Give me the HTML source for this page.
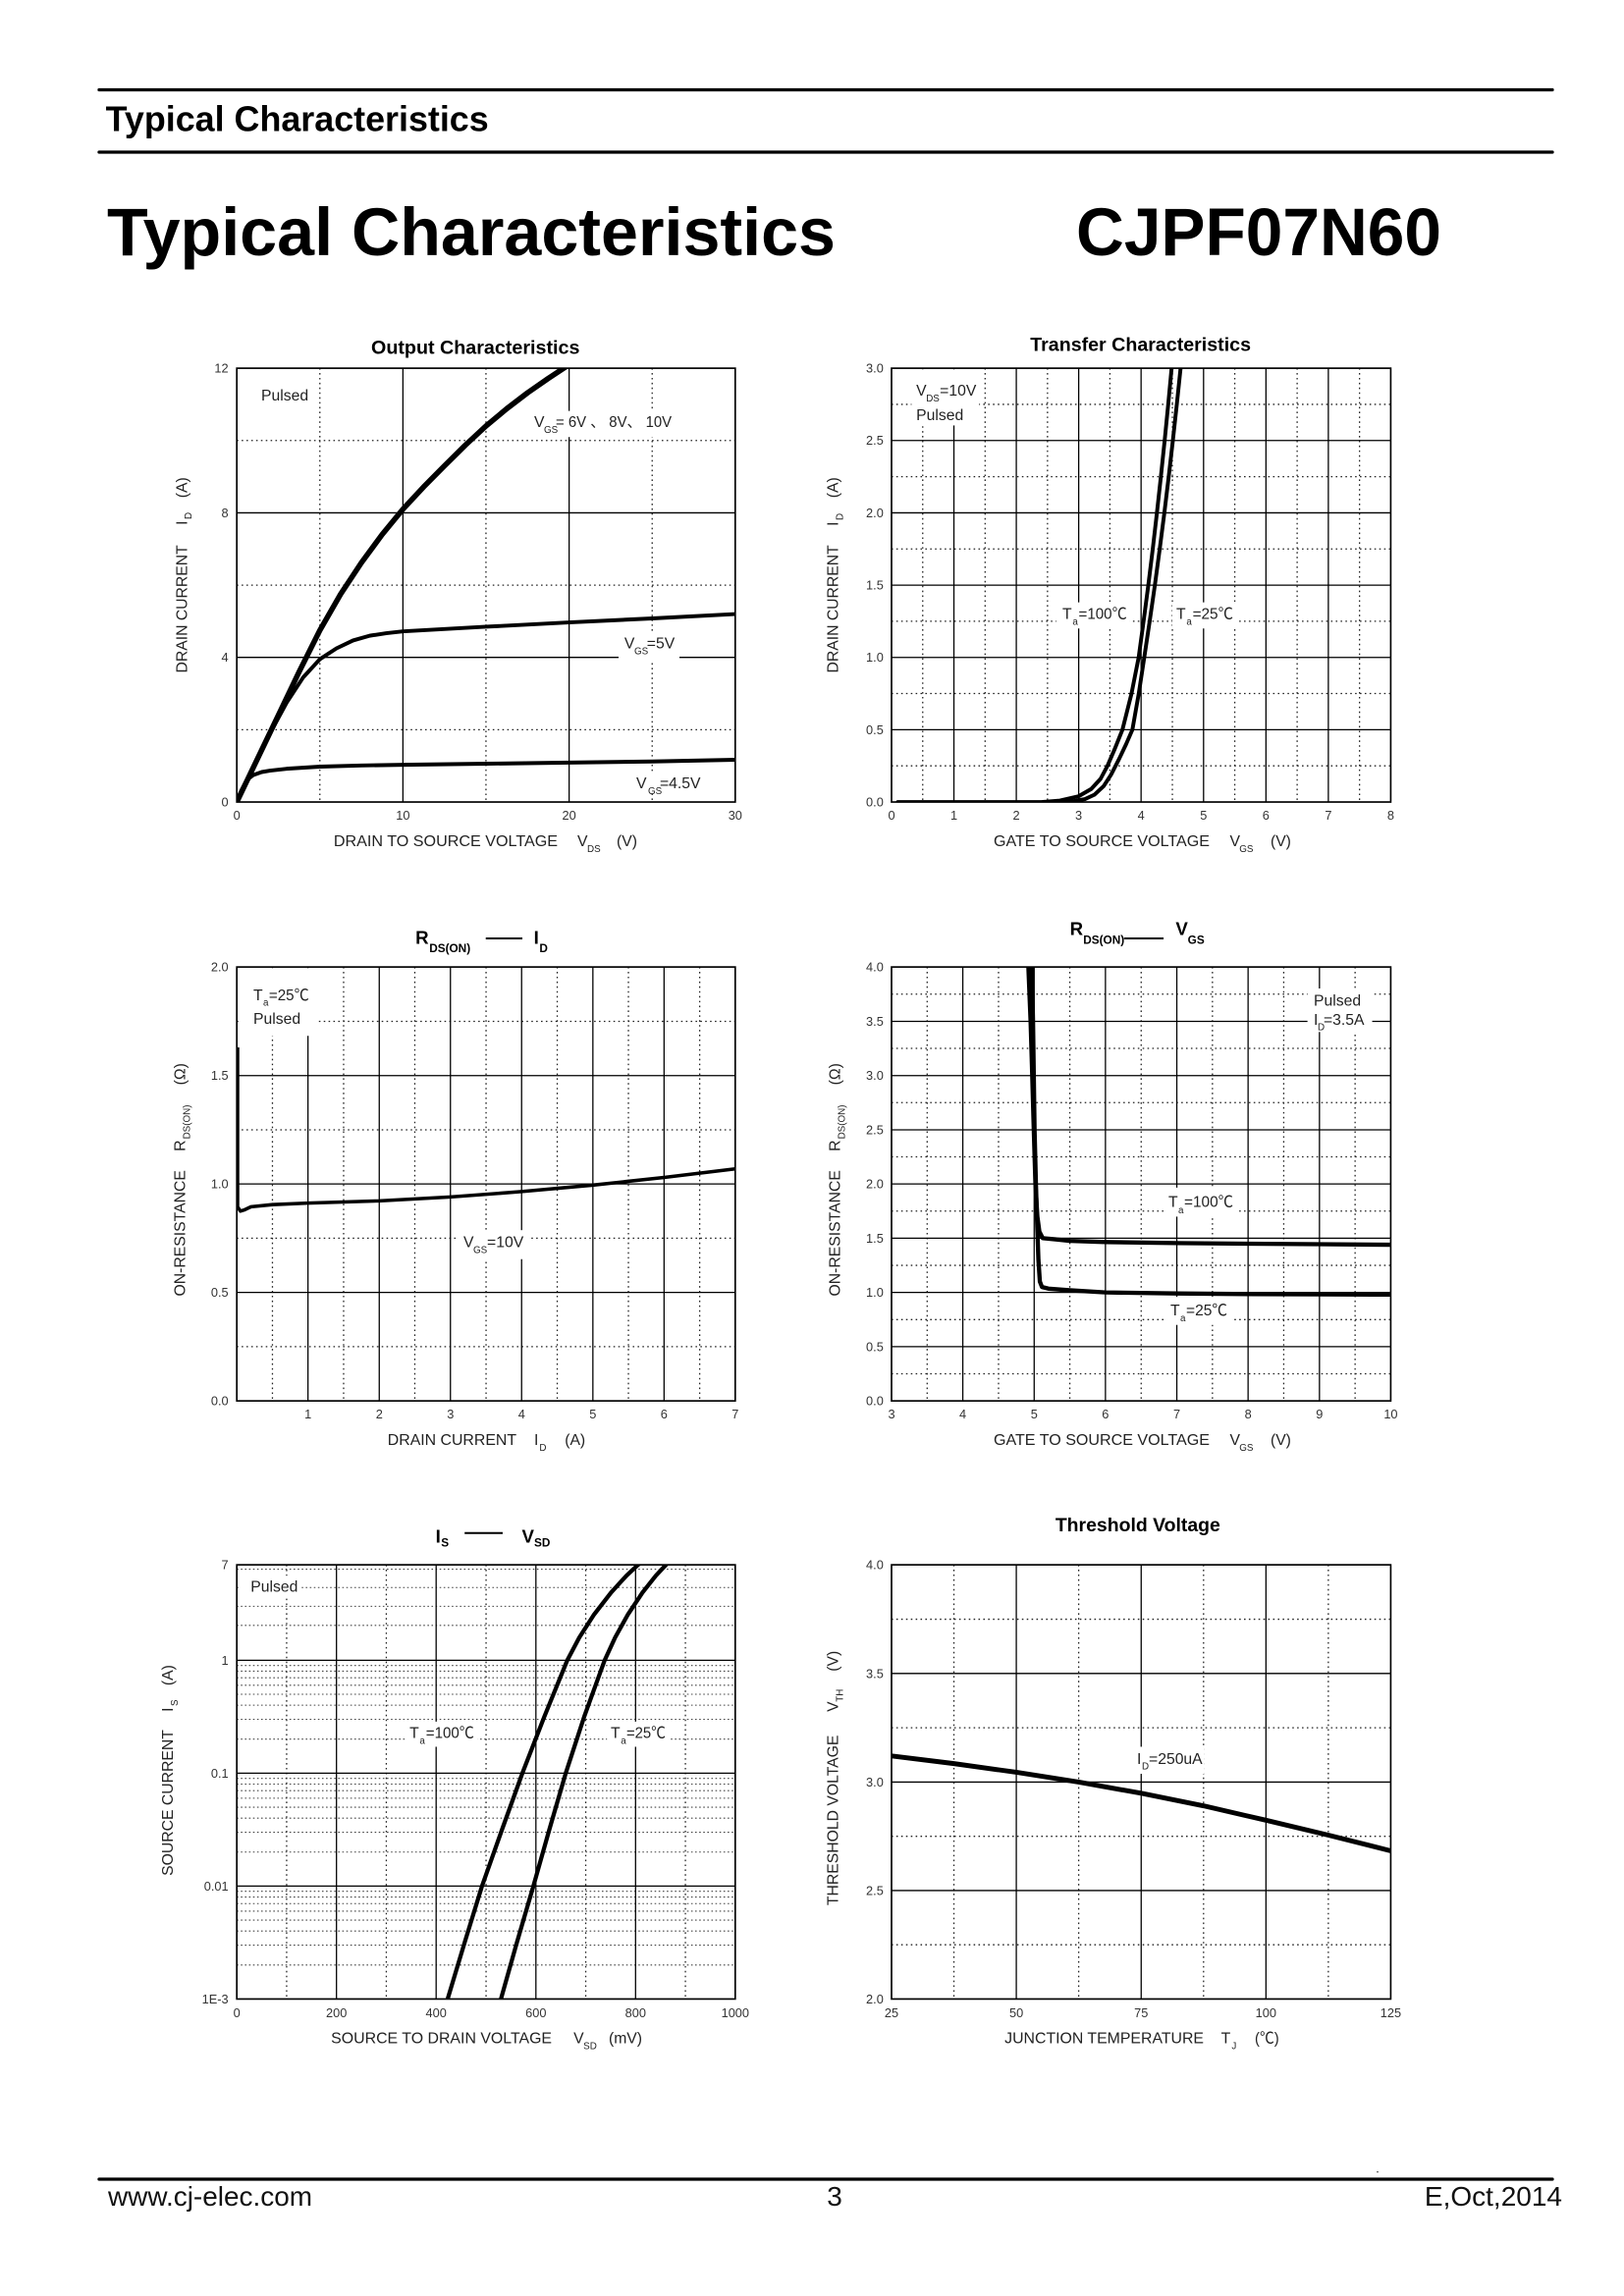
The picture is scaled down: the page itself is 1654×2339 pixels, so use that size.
<!DOCTYPE html>
<html><head><meta charset="utf-8"><title>Typical Characteristics CJPF07N60</title>
<style>
html,body{margin:0;padding:0;background:#fff}
svg{display:block}
text{font-family:"Liberation Sans","Noto Sans CJK SC",sans-serif}
.d{stroke:#222;stroke-width:1.3;stroke-dasharray:1.6 3.4;fill:none}
.dl{stroke:#444;stroke-width:1.1;stroke-dasharray:1.6 2.6;fill:none}
.s{stroke:#000;stroke-width:1.3;fill:none}
.b{stroke:#000;stroke-width:1.7;fill:none}
.c{stroke:#000;fill:none;stroke-width:4;stroke-linejoin:round;stroke-linecap:round}
.t{font-size:13px;fill:#333}
.a{font-size:16px;fill:#222}
.l{font-size:16px;fill:#222}
.sb{font-size:10px;fill:#222}
.w{fill:#fff}
</style></head><body>
<svg xmlns="http://www.w3.org/2000/svg" width="1654" height="2339" viewBox="0 0 1654 2339">
<rect width="1654" height="2339" fill="#fff"/>
<defs>
<clipPath id="c1"><rect x="242.7" y="375.8" width="516.1" height="448.7"/></clipPath>
<clipPath id="c2"><rect x="909.3" y="375.8" width="516.9" height="448.7"/></clipPath>
<clipPath id="c3"><rect x="242.7" y="985.8" width="516.1" height="448.8"/></clipPath>
<clipPath id="c4"><rect x="909.3" y="985.8" width="516.9" height="448.8"/></clipPath>
<clipPath id="c5"><rect x="242.7" y="1594.8" width="516.1" height="449.1"/></clipPath>
<clipPath id="c6"><rect x="909.3" y="1594.8" width="516.9" height="449.1"/></clipPath>
</defs>

<!-- Header -->
<line x1="101" y1="91.5" x2="1581" y2="91.5" stroke="#000" stroke-width="3.3" stroke-linecap="round"/>
<line x1="101" y1="155" x2="1581" y2="155" stroke="#000" stroke-width="3.3" stroke-linecap="round"/>
<text x="107.7" y="133.3" font-size="35.8" font-weight="bold" textLength="390" lengthAdjust="spacingAndGlyphs">Typical Characteristics</text>
<text x="109" y="260" font-size="69" font-weight="bold" textLength="742" lengthAdjust="spacingAndGlyphs">Typical Characteristics</text>
<text x="1096" y="260" font-size="69" font-weight="bold" textLength="372" lengthAdjust="spacingAndGlyphs">CJPF07N60</text>

<!-- ================= Chart 1: Output Characteristics ================= -->
<g transform="matrix(0.9836 0 0 0.9849 2.46 4.983)">
<text x="381.8" y="361" font-size="20" font-weight="bold" textLength="216" lengthAdjust="spacingAndGlyphs">Output Characteristics</text>
<path class="d" d="M328.7 375.8V824.5M500.7 375.8V824.5M672.8 375.8V824.5M242.7 749.7H758.8M242.7 600.2H758.8M242.7 450.6H758.8"/>
<path class="s" d="M414.7 375.8V824.5M586.8 375.8V824.5M242.7 674.9H758.8M242.7 525.4H758.8"/>
<rect class="w" x="548" y="420" width="149" height="27"/>
<rect class="w" x="638" y="650" width="63" height="28"/>
<rect class="w" x="652" y="793" width="74" height="22"/>
<g clip-path="url(#c1)">
<polyline class="c" style="stroke-width:5.6" points="242.7,824.5 264.2,779.6 285.7,734.8 307.2,689.9 328.7,646.9 350.2,609.5 371.7,577.0 393.2,547.8 414.7,521.6 436.2,498.5 457.7,476.8 479.2,455.5 500.7,435.6 522.2,417.7 543.8,401.2 565.3,386.3 586.8,372.1"/>
<polyline class="c" points="242.7,824.5 259.9,788.2 277.1,753.5 294.3,721.7 311.5,695.5 328.7,676.8 345.9,665.6 363.1,657.4 380.3,652.5 397.5,649.9 414.7,648.0 500.7,643.2 586.8,638.7 672.8,634.6 758.8,630.1"/>
<polyline class="c" points="242.7,824.5 247.0,813.3 251.3,805.1 255.6,799.8 259.9,796.5 268.5,793.5 277.1,792.0 294.3,790.1 328.7,787.9 371.7,786.7 414.7,786.0 500.7,784.9 586.8,783.7 672.8,782.6 758.8,780.8"/>
</g>
<rect class="b" x="242.7" y="375.8" width="516.1" height="448.7"/>
<g class="t" text-anchor="end">
<text x="234" y="380.3">12</text><text x="234" y="529.9">8</text><text x="234" y="679.4">4</text><text x="234" y="829">0</text>
</g>
<g class="t" text-anchor="middle">
<text x="242.7" y="843">0</text><text x="414.7" y="843">10</text><text x="586.8" y="843">20</text><text x="758.8" y="843">30</text>
</g>
<text class="l" x="268" y="409">Pulsed</text>
<text class="l" x="550.6" y="436.5">V</text><text class="sb" x="560.7" y="442.6">GS</text><text class="l" x="573" y="436.5" textLength="120" lengthAdjust="spacingAndGlyphs">= 6V 、 8V、 10V</text>
<text class="l" x="644" y="665.7">V</text><text class="sb" x="654.3" y="671.8">GS</text><text class="l" x="667.3" y="665.7">=5V</text>
<text class="l" x="656.3" y="810.2">V</text><text class="sb" x="668.5" y="816.2">GS</text><text class="l" x="680.7" y="810.2">=4.5V</text>
<text class="a" x="343" y="870" textLength="232" lengthAdjust="spacingAndGlyphs">DRAIN TO SOURCE VOLTAGE</text>
<text class="a" x="595.3" y="870">V</text><text class="sb" x="605.5" y="876">DS</text><text class="a" x="636" y="870">(V)</text>
<text class="a" transform="translate(191 691) rotate(-90)"><tspan x="0" y="0">DRAIN CURRENT</tspan><tspan x="153" y="0">I</tspan><tspan x="159" y="5" font-size="10">D</tspan><tspan x="181" y="0">(A)</tspan></text>
</g>

<!-- ================= Chart 2: Transfer Characteristics ================= -->
<g transform="matrix(0.9836 0 0 0.9849 13.612 4.983)">
<text x="1052.9" y="358" font-size="20" font-weight="bold" textLength="228.5" lengthAdjust="spacingAndGlyphs">Transfer Characteristics</text>
<path class="d" d="M941.6 375.8V824.5M1006.2 375.8V824.5M1070.8 375.8V824.5M1135.4 375.8V824.5M1200.1 375.8V824.5M1264.7 375.8V824.5M1329.3 375.8V824.5M1393.9 375.8V824.5M909.3 787.1H1426.2M909.3 712.3H1426.2M909.3 637.5H1426.2M909.3 562.8H1426.2M909.3 488.0H1426.2M909.3 413.2H1426.2"/>
<path class="s" d="M973.9 375.8V824.5M1038.5 375.8V824.5M1103.1 375.8V824.5M1167.7 375.8V824.5M1232.4 375.8V824.5M1297.0 375.8V824.5M1361.6 375.8V824.5M909.3 749.7H1426.2M909.3 675.0H1426.2M909.3 600.2H1426.2M909.3 525.4H1426.2M909.3 450.6H1426.2"/>
<rect class="w" x="930" y="377" width="70" height="58"/>
<rect class="w" x="1080" y="618" width="76" height="27"/>
<rect class="w" x="1200" y="618" width="68" height="27"/>
<g clip-path="url(#c2)">
<polyline class="c" points="915.8,824.5 1064.4,824.5 1083.7,823.0 1103.1,818.5 1116.1,811.0 1125.7,800.6 1132.9,787.1 1140.6,769.2 1148.4,749.7 1157.8,712.3 1165.2,674.9 1170.3,637.5 1175.2,600.1 1179.8,562.7 1184.1,525.4 1188.2,488.0 1192.1,450.6 1195.8,413.2 1199.3,375.8 1200.1,368"/>
<polyline class="c" points="1077.3,824.5 1096.7,823.8 1109.6,821.5 1119.3,817.0 1129.0,808.0 1136.7,796.1 1145.1,779.6 1152.2,764.7 1158.7,749.7 1165.3,712.3 1171.0,674.9 1176.6,637.5 1182.0,600.1 1187.0,562.7 1191.8,525.4 1196.3,488.0 1200.6,450.6 1204.7,413.2 1208.6,375.8 1209.4,368"/>
</g>
<rect class="b" x="909.3" y="375.8" width="516.9" height="448.7"/>
<g class="t" text-anchor="end">
<text x="901" y="380.3">3.0</text><text x="901" y="455.1">2.5</text><text x="901" y="529.9">2.0</text><text x="901" y="604.7">1.5</text><text x="901" y="679.5">1.0</text><text x="901" y="754.2">0.5</text><text x="901" y="829">0.0</text>
</g>
<g class="t" text-anchor="middle">
<text x="909.3" y="843">0</text><text x="973.9" y="843">1</text><text x="1038.5" y="843">2</text><text x="1103.1" y="843">3</text><text x="1167.7" y="843">4</text><text x="1232.4" y="843">5</text><text x="1297.0" y="843">6</text><text x="1361.6" y="843">7</text><text x="1426.2" y="843">8</text>
</g>
<text class="l" x="934.9" y="404">V</text><text class="sb" x="945.1" y="410">DS</text><text class="l" x="959.3" y="404">=10V</text>
<text class="l" x="934.9" y="429.3">Pulsed</text>
<text class="l" x="1086.2" y="635">T</text><text class="sb" x="1096.8" y="641">a</text><text class="l" x="1103" y="635" textLength="50" lengthAdjust="spacingAndGlyphs">=100℃</text>
<text class="l" x="1204.1" y="635">T</text><text class="sb" x="1214.7" y="641">a</text><text class="l" x="1221" y="635" textLength="42" lengthAdjust="spacingAndGlyphs">=25℃</text>
<text class="a" x="1015" y="870" textLength="223.7" lengthAdjust="spacingAndGlyphs">GATE TO SOURCE VOLTAGE</text>
<text class="a" x="1259.5" y="870">V</text><text class="sb" x="1269.5" y="876">GS</text><text class="a" x="1301.7" y="870">(V)</text>
<text class="a" transform="translate(854 691) rotate(-90)"><tspan x="0" y="0">DRAIN CURRENT</tspan><tspan x="152" y="0">I</tspan><tspan x="158" y="5" font-size="10">D</tspan><tspan x="181" y="0">(A)</tspan></text>
</g>

<!-- ================= Chart 3: RDS(ON) - ID ================= -->
<g transform="matrix(0.9836 0 0 0.9849 2.46 14.194)">
<text x="427.7" y="961.7" font-size="19" font-weight="bold">R</text>
<text x="442" y="970.5" font-size="12" font-weight="bold">DS(ON)</text>
<line x1="500.5" y1="956.2" x2="538.4" y2="956.2" stroke="#000" stroke-width="2"/>
<text x="550.2" y="961.7" font-size="19" font-weight="bold">I</text>
<text x="556" y="970.5" font-size="12" font-weight="bold">D</text>
<path class="d" d="M279.6 985.8V1434.6M353.3 985.8V1434.6M427.0 985.8V1434.6M500.8 985.8V1434.6M574.5 985.8V1434.6M648.2 985.8V1434.6M722.0 985.8V1434.6M242.7 1378.5H758.8M242.7 1266.3H758.8M242.7 1154.2H758.8M242.7 1042.0H758.8"/>
<path class="s" d="M316.4 985.8V1434.6M390.2 985.8V1434.6M463.9 985.8V1434.6M537.6 985.8V1434.6M611.4 985.8V1434.6M685.1 985.8V1434.6M242.7 1322.4H758.8M242.7 1210.2H758.8M242.7 1098.1H758.8"/>
<rect class="w" x="247" y="987" width="78" height="70"/>
<rect class="w" x="471" y="1258" width="74" height="30"/>
<g clip-path="url(#c3)">
<line x1="244.3" y1="1069" x2="244.3" y2="1236" stroke="#000" stroke-width="2"/>
<polyline class="c" style="stroke-width:3.6" points="244.2,1234.9 246.4,1238.3 250.1,1237.2 257.4,1233.8 279.6,1231.6 316.4,1230.0 390.2,1227.7 463.9,1223.7 537.6,1218.1 611.4,1211.4 685.1,1203.5 758.8,1194.6"/>
</g>
<rect class="b" x="242.7" y="985.8" width="516.1" height="448.8"/>
<g class="t" text-anchor="end">
<text x="234" y="990.3">2.0</text><text x="234" y="1102.6">1.5</text><text x="234" y="1214.7">1.0</text><text x="234" y="1326.9">0.5</text><text x="234" y="1439.1">0.0</text>
</g>
<g class="t" text-anchor="middle">
<text x="316.4" y="1453">1</text><text x="390.2" y="1453">2</text><text x="463.9" y="1453">3</text><text x="537.6" y="1453">4</text><text x="611.4" y="1453">5</text><text x="685.1" y="1453">6</text><text x="758.8" y="1453">7</text>
</g>
<text class="l" x="259.8" y="1020.1">T</text><text class="sb" x="270" y="1026">a</text><text class="l" x="276" y="1020.1" textLength="41.5" lengthAdjust="spacingAndGlyphs">=25℃</text>
<text class="l" x="259.8" y="1044.7">Pulsed</text>
<text class="l" x="477.4" y="1275.7">V</text><text class="sb" x="487.5" y="1281.5">GS</text><text class="l" x="501.8" y="1275.7">=10V</text>
<text class="a" x="398.9" y="1480" textLength="133.4" lengthAdjust="spacingAndGlyphs">DRAIN CURRENT</text>
<text class="a" x="550.6" y="1480">I</text><text class="sb" x="556" y="1486">D</text><text class="a" x="582.3" y="1480">(A)</text>
<text class="a" transform="translate(189 1326.3) rotate(-90)"><tspan x="0" y="0">ON-RESISTANCE</tspan><tspan x="149.8" y="0">R</tspan><tspan x="162.5" y="5" font-size="10">DS(ON)</tspan><tspan x="218.4" y="0">(Ω)</tspan></text>
</g>

<!-- ================= Chart 4: RDS(ON) - VGS ================= -->
<g transform="matrix(0.9836 0 0 0.9849 13.612 14.194)">
<text x="1094" y="952.6" font-size="19" font-weight="bold">R</text>
<text x="1107.8" y="961.7" font-size="12" font-weight="bold">DS(ON)</text>
<line x1="1150" y1="956.2" x2="1191" y2="956.2" stroke="#000" stroke-width="2"/>
<text x="1203.5" y="952.6" font-size="19" font-weight="bold">V</text>
<text x="1216" y="961.7" font-size="12" font-weight="bold">GS</text>
<path class="d" d="M946.2 985.8V1434.6M1020.1 985.8V1434.6M1093.9 985.8V1434.6M1167.8 985.8V1434.6M1241.6 985.8V1434.6M1315.4 985.8V1434.6M1389.3 985.8V1434.6M909.3 1406.5H1426.2M909.3 1350.5H1426.2M909.3 1294.4H1426.2M909.3 1238.3H1426.2M909.3 1182.2H1426.2M909.3 1126.1H1426.2M909.3 1070.0H1426.2M909.3 1013.9H1426.2"/>
<path class="s" d="M983.1 985.8V1434.6M1057.0 985.8V1434.6M1130.8 985.8V1434.6M1204.7 985.8V1434.6M1278.5 985.8V1434.6M1352.4 985.8V1434.6M909.3 1378.5H1426.2M909.3 1322.4H1426.2M909.3 1266.3H1426.2M909.3 1210.2H1426.2M909.3 1154.2H1426.2M909.3 1098.1H1426.2M909.3 1042.0H1426.2"/>
<rect class="w" x="1340" y="1008" width="67" height="45"/>
<rect class="w" x="1192" y="1214" width="76" height="30"/>
<rect class="w" x="1194" y="1327" width="68" height="29"/>
<g clip-path="url(#c4)">
<polyline class="c" style="stroke-width:4.4" points="1051.0,980 1051.0,985.9 1053.3,1042.0 1055.0,1098.1 1056.6,1154.2 1058.3,1210.2 1060.3,1243.9 1062.4,1259.6 1065.9,1266.3 1079.1,1267.5 1093.9,1269.1 1130.8,1270.3 1204.7,1271.4 1278.5,1272.0 1352.3,1272.5 1426.2,1273.1"/>
<polyline class="c" style="stroke-width:4.4" points="1054.6,980 1054.6,985.9 1055.8,1042.0 1056.6,1098.1 1057.4,1154.2 1058.8,1210.2 1060.2,1255.1 1061.4,1288.8 1062.9,1311.2 1065.1,1316.8 1071.8,1318.5 1093.9,1320.2 1130.8,1322.4 1204.7,1323.5 1278.5,1324.1 1352.3,1324.4 1426.2,1324.7"/>
</g>
<rect class="b" x="909.3" y="985.8" width="516.9" height="448.8"/>
<g class="t" text-anchor="end">
<text x="901" y="990.3">4.0</text><text x="901" y="1046.5">3.5</text><text x="901" y="1102.6">3.0</text><text x="901" y="1158.7">2.5</text><text x="901" y="1214.7">2.0</text><text x="901" y="1270.8">1.5</text><text x="901" y="1326.9">1.0</text><text x="901" y="1383.0">0.5</text><text x="901" y="1439.1">0.0</text>
</g>
<g class="t" text-anchor="middle">
<text x="909.3" y="1453">3</text><text x="983.1" y="1453">4</text><text x="1057.0" y="1453">5</text><text x="1130.8" y="1453">6</text><text x="1204.7" y="1453">7</text><text x="1278.5" y="1453">8</text><text x="1352.4" y="1453">9</text><text x="1426.2" y="1453">10</text>
</g>
<text class="l" x="1346.5" y="1025.6">Pulsed</text>
<text class="l" x="1346.5" y="1045.4">I</text><text class="sb" x="1350.5" y="1051">D</text><text class="l" x="1356.6" y="1045.4">=3.5A</text>
<text class="l" x="1196" y="1234.2">T</text><text class="sb" x="1206.2" y="1240.5">a</text><text class="l" x="1212.3" y="1234.2" textLength="50.8" lengthAdjust="spacingAndGlyphs">=100℃</text>
<text class="l" x="1198" y="1346.1">T</text><text class="sb" x="1208.2" y="1352.4">a</text><text class="l" x="1214.3" y="1346.1" textLength="42.7" lengthAdjust="spacingAndGlyphs">=25℃</text>
<text class="a" x="1015" y="1480" textLength="223.7" lengthAdjust="spacingAndGlyphs">GATE TO SOURCE VOLTAGE</text>
<text class="a" x="1259.5" y="1480">V</text><text class="sb" x="1269.5" y="1486">GS</text><text class="a" x="1301.7" y="1480">(V)</text>
<text class="a" transform="translate(856 1326.3) rotate(-90)"><tspan x="0" y="0">ON-RESISTANCE</tspan><tspan x="149.8" y="0">R</tspan><tspan x="162.5" y="5" font-size="10">DS(ON)</tspan><tspan x="218.4" y="0">(Ω)</tspan></text>
</g>

<!-- ================= Chart 5: IS - VSD ================= -->
<g transform="matrix(0.9836 0 0 0.9849 2.46 23.405)">
<text x="448.5" y="1571.7" font-size="19" font-weight="bold">I</text>
<text x="454.2" y="1576" font-size="12" font-weight="bold">S</text>
<line x1="478.6" y1="1561.9" x2="518" y2="1561.9" stroke="#000" stroke-width="2"/>
<text x="537.8" y="1571.7" font-size="19" font-weight="bold">V</text>
<text x="550.6" y="1576" font-size="12" font-weight="bold">SD</text>
<path class="dl" d="M242.7 1599.3H758.8M242.7 1618.3H758.8M242.7 1637.7H758.8M242.7 1657.4H758.8
M242.7 1698.9H758.8M242.7 1704.8H758.8M242.7 1711.6H758.8M242.7 1719.4H758.8M242.7 1728.7H758.8M242.7 1740.0H758.8M242.7 1754.6H758.8M242.7 1775.1H758.8
M242.7 1815.7H758.8M242.7 1821.6H758.8M242.7 1828.4H758.8M242.7 1836.2H758.8M242.7 1845.5H758.8M242.7 1856.8H758.8M242.7 1871.4H758.8M242.7 1891.9H758.8
M242.7 1932.5H758.8M242.7 1938.4H758.8M242.7 1945.2H758.8M242.7 1953.0H758.8M242.7 1962.3H758.8M242.7 1973.6H758.8M242.7 1988.2H758.8M242.7 2008.7H758.8"/>
<path class="d" d="M294.3 1594.8V2043.9M397.5 1594.8V2043.9M500.8 1594.8V2043.9M604.0 1594.8V2043.9M707.2 1594.8V2043.9"/>
<path class="s" d="M345.9 1594.8V2043.9M449.1 1594.8V2043.9M552.4 1594.8V2043.9M655.6 1594.8V2043.9M242.7 1693.5H758.8M242.7 1810.3H758.8M242.7 1927.1H758.8"/>
<rect class="w" x="246" y="1606" width="63" height="22"/>
<rect class="w" x="418" y="1757" width="74" height="26"/>
<rect class="w" x="626" y="1757" width="64" height="26"/>
<g clip-path="url(#c5)">
<polyline class="c" style="stroke-width:4.3" points="459.4,2050 461.0,2043.9 478.6,1985.5 496.6,1927.1 517.3,1868.7 538.4,1810.3 561.1,1751.9 584.9,1693.5 597.3,1670.1 612.2,1646.8 630.3,1623.4 646.3,1605.9 658.2,1594.8 665.9,1588.4"/>
<polyline class="c" style="stroke-width:4.3" points="514.5,2050 516.2,2043.9 532.7,1985.5 549.8,1927.1 566.3,1868.7 583.3,1810.3 602.4,1751.9 623.6,1693.5 634.4,1670.1 647.3,1646.8 662.8,1623.4 676.7,1605.9 687.1,1594.8 693.8,1588.4"/>
</g>
<rect class="b" x="242.7" y="1594.8" width="516.1" height="449.1"/>
<g class="t" text-anchor="end">
<text x="234" y="1599.3">7</text><text x="234" y="1698">1</text><text x="234" y="1814.8">0.1</text><text x="234" y="1931.6">0.01</text><text x="234" y="2048.4">1E-3</text>
</g>
<g class="t" text-anchor="middle">
<text x="242.7" y="2062.5">0</text><text x="345.9" y="2062.5">200</text><text x="449.1" y="2062.5">400</text><text x="552.4" y="2062.5">600</text><text x="655.6" y="2062.5">800</text><text x="758.8" y="2062.5">1000</text>
</g>
<text class="l" x="257" y="1622.4">Pulsed</text>
<text class="l" x="421.6" y="1773.8">T</text><text class="sb" x="432" y="1779.8">a</text><text class="l" x="438.5" y="1773.8" textLength="50" lengthAdjust="spacingAndGlyphs">=100℃</text>
<text class="l" x="629.9" y="1773.8">T</text><text class="sb" x="640.3" y="1779.8">a</text><text class="l" x="646.1" y="1773.8" textLength="40.7" lengthAdjust="spacingAndGlyphs">=25℃</text>
<text class="a" x="340.3" y="2089.5" textLength="228.6" lengthAdjust="spacingAndGlyphs">SOURCE TO DRAIN VOLTAGE</text>
<text class="a" x="591.4" y="2089.5">V</text><text class="sb" x="601.6" y="2095.5">SD</text><text class="a" x="627.8" y="2089.5">(mV)</text>
<text class="a" transform="translate(176.4 1916.4) rotate(-90)"><tspan x="0" y="0">SOURCE CURRENT</tspan><tspan x="169.6" y="0">I</tspan><tspan x="175.5" y="5" font-size="10">S</tspan><tspan x="196.7" y="0">(A)</tspan></text>
</g>

<!-- ================= Chart 6: Threshold Voltage ================= -->
<g transform="matrix(0.9836 0 0 0.9849 13.612 23.405)">
<text x="1078.9" y="1560" font-size="20" font-weight="bold" textLength="170.8" lengthAdjust="spacingAndGlyphs">Threshold Voltage</text>
<path class="d" d="M973.9 1594.8V2043.9M1103.1 1594.8V2043.9M1232.4 1594.8V2043.9M1361.6 1594.8V2043.9M909.3 1987.8H1426.2M909.3 1875.6H1426.2M909.3 1763.3H1426.2M909.3 1651.1H1426.2"/>
<path class="s" d="M1038.5 1594.8V2043.9M1167.8 1594.8V2043.9M1297.0 1594.8V2043.9M909.3 1931.7H1426.2M909.3 1819.5H1426.2M909.3 1707.2H1426.2"/>
<rect class="w" x="1160" y="1783" width="73" height="28"/>
<g clip-path="url(#c6)">
<polyline class="c" style="stroke-width:5" points="909.3,1792.5 973.9,1800.4 1038.5,1809.4 1103.1,1819.5 1167.8,1831.1 1232.4,1844.1 1297.0,1859.0 1361.6,1874.4 1426.2,1890.6"/>
</g>
<rect class="b" x="909.3" y="1594.8" width="516.9" height="449.1"/>
<g class="t" text-anchor="end">
<text x="901" y="1599.3">4.0</text><text x="901" y="1711.7">3.5</text><text x="901" y="1824">3.0</text><text x="901" y="1936.2">2.5</text><text x="901" y="2048.4">2.0</text>
</g>
<g class="t" text-anchor="middle">
<text x="909.3" y="2062.5">25</text><text x="1038.5" y="2062.5">50</text><text x="1167.8" y="2062.5">75</text><text x="1297.0" y="2062.5">100</text><text x="1426.2" y="2062.5">125</text>
</g>
<text class="l" x="1163.5" y="1800.9">I</text><text class="sb" x="1168.6" y="1806.5">D</text><text class="l" x="1175.7" y="1800.9">=250uA</text>
<text class="a" x="1026.4" y="2089.5" textLength="206.2" lengthAdjust="spacingAndGlyphs">JUNCTION TEMPERATURE</text>
<text class="a" x="1250.5" y="2089.5">T</text><text class="sb" x="1261.5" y="2095.5">J</text><text class="a" x="1285.5" y="2089.5" textLength="25" lengthAdjust="spacingAndGlyphs">(℃)</text>
<text class="a" transform="translate(854 1947.1) rotate(-90)"><tspan x="0" y="0">THRESHOLD VOLTAGE</tspan><tspan x="200.3" y="0">V</tspan><tspan x="210.5" y="5" font-size="10">TH</tspan><tspan x="242" y="0">(V)</tspan></text>
</g>

<!-- Footer -->
<rect x="1402" y="2212" width="2" height="1.2" fill="#666"/>
<line x1="101" y1="2220" x2="1581" y2="2220" stroke="#000" stroke-width="3.3" stroke-linecap="round"/>
<text x="110" y="2247" font-size="28" fill="#111" textLength="208" lengthAdjust="spacingAndGlyphs">www.cj-elec.com</text>
<text x="850" y="2247" font-size="28" fill="#111" text-anchor="middle">3</text>
<text x="1591" y="2247" font-size="28" fill="#111" text-anchor="end">E,Oct,2014</text>
</svg>
</body></html>
